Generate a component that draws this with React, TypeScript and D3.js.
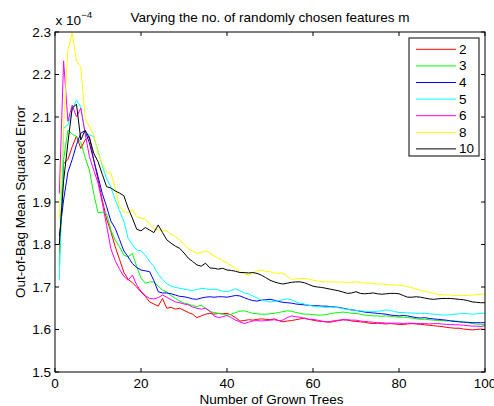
import React from "react";
import * as d3 from "d3";

const trees: number[] = d3.range(1, 101);

const seriesNames = ["2", "3", "4", "5", "6", "8", "10"];
const seriesColors = ["#ff0000", "#00ff00", "#0000ff", "#00ffff", "#ff00ff", "#ffff00", "#000000"];

const m2 = [1.78,1.99,2.00,2.03,2.055,2.026,2.046,2.054,2.00,1.952,1.905,1.86,1.83,1.795,1.765,1.735,1.718,1.71,1.70,1.688,1.678,1.665,1.66,1.655,1.673,1.650,1.652,1.648,1.650,1.645,1.640,1.636,1.628,1.632,1.636,1.638,1.636,1.638,1.637,1.638,1.634,1.628,1.620,1.621,1.623,1.622,1.624,1.625,1.624,1.623,1.625,1.621,1.618,1.620,1.621,1.623,1.625,1.627,1.624,1.622,1.620,1.619,1.618,1.617,1.619,1.621,1.623,1.622,1.620,1.619,1.618,1.617,1.615,1.614,1.615,1.614,1.613,1.614,1.613,1.612,1.612,1.613,1.614,1.613,1.612,1.611,1.610,1.609,1.608,1.607,1.605,1.604,1.603,1.603,1.601,1.600,1.599,1.600,1.601,1.600];
const m3 = [1.75,2.00,2.069,2.06,2.054,2.04,2.005,1.975,1.92,1.875,1.876,1.872,1.834,1.81,1.795,1.775,1.771,1.779,1.748,1.721,1.709,1.712,1.712,1.702,1.693,1.688,1.680,1.673,1.667,1.662,1.660,1.656,1.654,1.657,1.650,1.642,1.640,1.638,1.636,1.634,1.636,1.640,1.643,1.644,1.641,1.638,1.637,1.636,1.636,1.637,1.638,1.640,1.642,1.644,1.643,1.640,1.638,1.636,1.636,1.635,1.634,1.634,1.635,1.637,1.639,1.640,1.641,1.640,1.638,1.638,1.636,1.634,1.633,1.632,1.632,1.631,1.632,1.631,1.630,1.629,1.629,1.628,1.627,1.625,1.624,1.624,1.623,1.622,1.621,1.621,1.620,1.621,1.620,1.619,1.618,1.616,1.614,1.613,1.612,1.611];
const m4 = [1.82,1.905,1.97,2.00,2.035,2.062,2.068,2.039,1.999,1.96,1.92,1.889,1.855,1.838,1.812,1.785,1.771,1.755,1.746,1.740,1.738,1.736,1.715,1.689,1.686,1.686,1.684,1.681,1.678,1.677,1.675,1.672,1.671,1.674,1.676,1.677,1.676,1.677,1.677,1.676,1.678,1.680,1.679,1.675,1.671,1.668,1.667,1.669,1.670,1.671,1.669,1.666,1.664,1.663,1.662,1.660,1.659,1.658,1.657,1.656,1.656,1.655,1.655,1.654,1.653,1.652,1.650,1.648,1.646,1.645,1.643,1.641,1.640,1.639,1.638,1.637,1.636,1.634,1.633,1.632,1.633,1.632,1.630,1.628,1.627,1.628,1.626,1.625,1.624,1.623,1.622,1.620,1.619,1.618,1.617,1.617,1.616,1.616,1.616,1.616];
const m5 = [1.716,2.074,2.081,2.116,2.14,2.124,2.062,2.058,2.054,2.02,1.985,1.955,1.935,1.905,1.88,1.855,1.815,1.80,1.787,1.785,1.775,1.760,1.748,1.730,1.718,1.708,1.702,1.699,1.697,1.695,1.693,1.692,1.694,1.697,1.696,1.694,1.695,1.693,1.690,1.689,1.692,1.696,1.691,1.686,1.684,1.679,1.674,1.669,1.667,1.665,1.666,1.668,1.670,1.672,1.670,1.665,1.662,1.660,1.657,1.655,1.654,1.653,1.652,1.653,1.652,1.651,1.649,1.647,1.646,1.645,1.644,1.643,1.642,1.642,1.643,1.644,1.646,1.645,1.642,1.640,1.640,1.639,1.639,1.638,1.638,1.638,1.637,1.636,1.635,1.634,1.634,1.635,1.636,1.637,1.638,1.637,1.636,1.637,1.638,1.638];
const m6 = [1.92,2.232,2.09,2.128,2.10,2.121,2.062,2.007,1.975,1.945,1.898,1.845,1.79,1.762,1.742,1.725,1.716,1.728,1.705,1.690,1.680,1.673,1.672,1.675,1.681,1.676,1.670,1.665,1.663,1.660,1.658,1.653,1.650,1.648,1.650,1.644,1.632,1.628,1.630,1.633,1.628,1.622,1.618,1.614,1.617,1.620,1.621,1.620,1.621,1.622,1.623,1.621,1.622,1.628,1.632,1.630,1.629,1.626,1.624,1.624,1.622,1.620,1.618,1.619,1.621,1.622,1.623,1.623,1.622,1.622,1.620,1.619,1.618,1.617,1.616,1.616,1.615,1.615,1.615,1.615,1.614,1.615,1.615,1.614,1.614,1.614,1.613,1.614,1.614,1.613,1.612,1.612,1.611,1.611,1.610,1.609,1.608,1.608,1.607,1.609];
const m8 = [1.86,2.08,2.258,2.298,2.232,2.218,2.097,2.077,2.058,2.015,1.99,1.971,1.968,1.932,1.89,1.877,1.875,1.882,1.865,1.862,1.860,1.848,1.836,1.834,1.834,1.832,1.825,1.818,1.811,1.800,1.790,1.785,1.779,1.781,1.785,1.780,1.773,1.768,1.762,1.757,1.750,1.744,1.736,1.731,1.728,1.732,1.738,1.740,1.737,1.736,1.733,1.732,1.733,1.725,1.718,1.719,1.720,1.720,1.719,1.716,1.714,1.713,1.712,1.712,1.712,1.711,1.712,1.711,1.711,1.712,1.711,1.709,1.709,1.708,1.707,1.707,1.706,1.705,1.705,1.704,1.703,1.701,1.698,1.695,1.692,1.690,1.688,1.685,1.683,1.682,1.681,1.681,1.680,1.680,1.680,1.680,1.681,1.682,1.683,1.683];
const m10 = [1.80,1.95,2.039,2.121,2.13,2.046,2.069,2.051,2.015,1.995,1.965,1.936,1.933,1.926,1.921,1.915,1.886,1.862,1.836,1.832,1.840,1.834,1.828,1.846,1.828,1.811,1.803,1.796,1.791,1.780,1.768,1.760,1.752,1.749,1.756,1.745,1.744,1.742,1.744,1.740,1.739,1.737,1.734,1.734,1.733,1.734,1.732,1.728,1.722,1.716,1.712,1.709,1.707,1.709,1.711,1.712,1.712,1.710,1.706,1.702,1.700,1.699,1.697,1.695,1.693,1.691,1.688,1.685,1.686,1.689,1.685,1.684,1.685,1.686,1.684,1.683,1.684,1.685,1.685,1.684,1.680,1.676,1.676,1.677,1.676,1.674,1.672,1.671,1.672,1.673,1.673,1.673,1.672,1.671,1.670,1.668,1.665,1.664,1.663,1.663];

const seriesValues = [m2, m3, m4, m5, m6, m8, m10];

const xTicks = [0, 20, 40, 60, 80, 100];
const yTicks = [1.5, 1.6, 1.7, 1.8, 1.9, 2, 2.1, 2.2, 2.3];

const W = 494;
const H = 406;
const L = 55, R = 485, T = 32, B = 372;
const FONT = "'Liberation Sans', Arial, Helvetica, sans-serif";
const FS = 12.3;
const SX = 1.1;

function T2(props: { x: number; y: number; anchor?: string; size?: number; children: React.ReactNode; rotate?: number }) {
  const { x, y, anchor = "start", size = FS, children, rotate = 0 } = props;
  return (
    <text
      transform={`translate(${x},${y}) rotate(${rotate}) scale(${SX},1)`}
      fontSize={size}
      textAnchor={anchor}
      fill="#000"
    >
      {children}
    </text>
  );
}

export default function App() {
  const x = d3.scaleLinear().domain([0, 100]).range([L, R]);
  const y = d3.scaleLinear().domain([1.5, 2.3]).range([B, T]);
  const line = d3
    .line<number>()
    .x((_, i) => x(trees[i]))
    .y((v) => y(v));

  const tl = 4;
  const legX = 409, legY = 38, legW = 70, legH = 118;
  const legStep = 16.6;
  const fmt = (t: number) => (Math.abs(t - Math.round(t)) < 1e-9 ? String(Math.round(t)) : d3.format(".1f")(t));

  return (
    <svg
      width={W}
      height={H}
      style={{ position: "absolute", left: 0, top: 0, background: "#fff" }}
      fontFamily={FONT}
    >
      <rect x={0} y={0} width={W} height={H} fill="#fff" />
      <defs>
        <clipPath id="plotclip">
          <rect x={L} y={T} width={R - L} height={B - T} />
        </clipPath>
      </defs>
      <g clipPath="url(#plotclip)">
        {seriesValues.map((vals, si) => (
          <path
            key={si}
            d={line(vals) || ""}
            fill="none"
            stroke={seriesColors[si]}
            strokeWidth={1}
            strokeLinejoin="round"
          />
        ))}
      </g>
      <rect x={L} y={T} width={R - L} height={B - T} fill="none" stroke="#000" strokeWidth={1} />
      {xTicks.map((t) => (
        <g key={"x" + t}>
          <line x1={x(t)} x2={x(t)} y1={B} y2={B - tl} stroke="#000" />
          <line x1={x(t)} x2={x(t)} y1={T} y2={T + tl} stroke="#000" />
          <T2 x={x(t)} y={387.5} anchor="middle">{t}</T2>
        </g>
      ))}
      {yTicks.map((t) => (
        <g key={"y" + t}>
          <line x1={L} x2={L + tl} y1={y(t)} y2={y(t)} stroke="#000" />
          <line x1={R} x2={R - tl} y1={y(t)} y2={y(t)} stroke="#000" />
          <T2 x={51} y={y(t) + 4.5} anchor="end">{fmt(t)}</T2>
        </g>
      ))}
      <T2 x={55.5} y={25}>
        {"x 10"}
        <tspan dy={-7} fontSize={9}>−4</tspan>
      </T2>
      <T2 x={270} y={21.7} anchor="middle">Varying the no. of randomly chosen features m</T2>
      <T2 x={271.5} y={403.5} anchor="middle">Number of Grown Trees</T2>
      <T2 x={24.5} y={(T + B) / 2} anchor="middle" rotate={-90}>Out-of-Bag Mean Squared Error</T2>
      <rect x={legX} y={legY} width={legW} height={legH} fill="#fff" stroke="#000" strokeWidth={1} />
      {seriesNames.map((n, i) => {
        const yy = legY + 11.3 + i * legStep;
        return (
          <g key={"l" + n}>
            <line x1={416} x2={456} y1={yy} y2={yy} stroke={seriesColors[i]} strokeWidth={1} />
            <T2 x={459} y={yy + 4.5}>{n}</T2>
          </g>
        );
      })}
    </svg>
  );
}
